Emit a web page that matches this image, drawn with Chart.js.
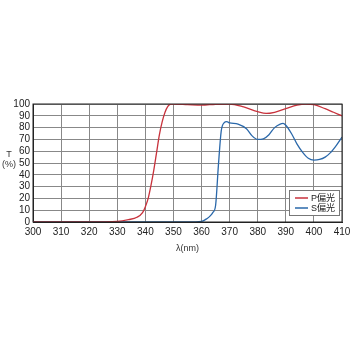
<!DOCTYPE html>
<html>
<head>
<meta charset="utf-8">
<script src="https://cdn.jsdelivr.net/npm/chart.js@4"></script>
<style>
  html, body { margin: 0; padding: 0; background: #fff; }
  #wrap { width: 350px; height: 350px; }
</style>
</head>
<body>
<div id="wrap"><canvas id="grafico" width="350" height="350"></canvas></div>
<script>
// datos
const ondaP = [300, 320, 330, 334, 337, 339, 340, 341, 342, 343, 344, 345, 346, 347, 348, 349, 350, 355, 360, 365, 370, 375, 380, 383, 386, 390, 394, 397, 400, 404, 407, 410];
const valoresP = [0, 0, 0.5, 2, 4, 8, 13, 20, 31, 44, 59, 74, 85, 93, 98, 99.8, 100, 99.5, 99, 99.8, 100, 97.5, 93.5, 92, 93, 96, 99, 100, 99.5, 96, 93, 90];
const ondaS = [300, 355, 360, 362, 363, 364, 365, 366, 367, 368, 369, 370, 373, 376, 378, 380, 382, 384, 386, 388, 389, 390, 392, 394, 396, 398, 400, 402, 404, 406, 408, 410];
const valoresS = [0, 0, 0.5, 3, 5, 8, 14, 48, 77, 84, 85, 84, 83, 79, 73, 70, 70.5, 74, 80, 83, 83.5, 82, 75, 66, 59, 54, 52.5, 53, 55, 59, 65, 72];
const etiquetas = ['P偏光', 'S偏光'];
const colores = ['#c8323c', '#2a68aa'];

const fuente = '"Liberation Sans", Arial, "Noto Sans CJK JP", sans-serif';

function puntos(xs, ys) {
    return xs.map((x, i) => ({ x: x, y: ys[i] }));
}

// texto "T (%)" a la izquierda
const etiquetaT = {
    id: 'etiquetaT',
    afterDraw(chart) {
        const ctx = chart.ctx;
        ctx.save();
        ctx.fillStyle = '#333';
        ctx.font = '9px ' + fuente;
        ctx.textAlign = 'center';
        ctx.textBaseline = 'middle';
        ctx.fillText('T', 9, 155);
        ctx.fillText('(%)', 9, 165);
        ctx.restore();
    }
};

// leyenda dentro del area
const leyenda = {
    id: 'leyenda',
    afterDraw(chart) {
        const ctx = chart.ctx;
        const area = chart.chartArea;
        const x0 = area.right - 53, y0 = area.bottom - 32, w = 50, h = 25;
        ctx.save();
        ctx.fillStyle = '#fff';
        ctx.fillRect(x0, y0, w, h);
        ctx.strokeStyle = '#777';
        ctx.lineWidth = 1;
        ctx.strokeRect(x0 + 0.5, y0 + 0.5, w, h);
        ctx.font = '9px ' + fuente;
        ctx.textBaseline = 'middle';
        chart.data.datasets.forEach((ds, i) => {
            const y = y0 + 8 + i * 10;
            ctx.strokeStyle = ds.borderColor;
            ctx.lineWidth = 1.5;
            ctx.beginPath();
            ctx.moveTo(x0 + 6, y);
            ctx.lineTo(x0 + 19, y);
            ctx.stroke();
            ctx.fillStyle = '#222';
            ctx.fillText(ds.label, x0 + 22, y + 0.5);
        });
        ctx.restore();
    }
};

const grafico = document.getElementById('grafico').getContext('2d');
new Chart(grafico, {
    type: 'line',
    data: {
        datasets: [{
            label: etiquetas[0],
            data: puntos(ondaP, valoresP),
            borderColor: colores[0],
            borderWidth: 1.3,
            pointRadius: 0,
            cubicInterpolationMode: 'monotone',
            fill: false
        }, {
            label: etiquetas[1],
            data: puntos(ondaS, valoresS),
            borderColor: colores[1],
            borderWidth: 1.3,
            pointRadius: 0,
            cubicInterpolationMode: 'monotone',
            fill: false
        }]
    },
    options: {
        responsive: false,
        animation: false,
        layout: { padding: { left: 0, top: 104, right: 8, bottom: 96 } },
        plugins: { legend: { display: false }, tooltip: { enabled: false } },
        scales: {
            x: {
                type: 'linear',
                min: 300,
                max: 410,
                ticks: { stepSize: 10, autoSkip: false, color: '#222', font: { family: fuente, size: 10 }, padding: 4, maxRotation: 0 },
                grid: { color: '#888', lineWidth: 1, drawTicks: false },
                border: { color: '#222', width: 1 },
                title: { display: true, text: 'λ(nm)', color: '#333', font: { family: fuente, size: 9 }, padding: { top: 2, bottom: 0 } },
                afterFit(scale) { scale.height = 32; scale.paddingRight = 0; scale.paddingLeft = 0; }
            },
            y: {
                min: 0,
                max: 100,
                ticks: { stepSize: 10, autoSkip: false, color: '#222', font: { family: fuente, size: 10 }, padding: 3 },
                grid: { color: '#888', lineWidth: 1, drawTicks: false },
                border: { color: '#222', width: 1 },
                afterFit(scale) { scale.width = 33; }
            }
        }
    },
    plugins: [etiquetaT, leyenda, {
        id: 'marco',
        afterDatasetsDraw(chart) {
            const a = chart.chartArea;
            const ctx = chart.ctx;
            ctx.save();
            ctx.strokeStyle = '#222';
            ctx.lineWidth = 1;
            ctx.strokeRect(a.left, a.top, a.right - a.left, a.bottom - a.top);
            ctx.restore();
        }
    }]
});
</script>
</body>
</html>
